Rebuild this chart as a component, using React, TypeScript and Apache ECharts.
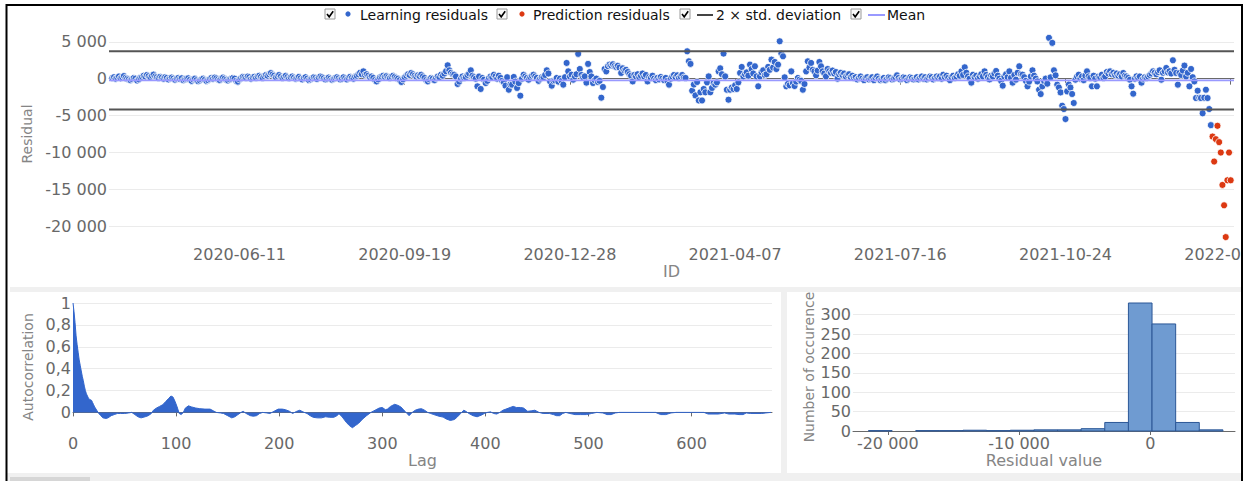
import React, { useEffect, useRef } from 'react';
import * as echarts from 'echarts';

// ---------- data ----------
const START_DATE = '2020-03-26'; // first learning residual (daily data)
const X_RANGE = ['2020-03-24', '2022-02-03'];
const X_TICK_DATES = ['2020-06-11', '2020-09-19', '2020-12-28', '2021-04-07', '2021-07-16', '2021-10-24', '2022-02-01'];
const Y_RANGE = [-22000, 7000];
const Y_TICKS = [5000, 0, -5000, -10000, -15000, -20000];

const LEARNING_RESIDUALS = [
  100, 200, 0, 150, 300, 50, 200, 350, 100, 0,
  -100, -200, -50, 100, 0, -250, -100, 150, 250, 400,
  300, 500, 350, 200, 400, 550, 300, 200, 100, 250,
  150, 0, 200, 100, -100, 50, 150, 0, -150, 0,
  100, -50, 50, -200, -100, 0, 50, -150, -300, -100,
  0, -200, -350, -250, -100, 0, -150, -300, -200, -50,
  100, 0, 150, 50, -100, -200, 0, 150, 0, -150,
  -250, -100, 0, 100, 0, -300, -400, -100, 100, 250,
  200, 100, 300, 200, 0, 150, 250, 100, 300, 400,
  250, 100, 350, 500, 400, 600, 750, 550, 400, 200,
  350, 500, 300, 100, 250, 400, 200, 50, 200, 300,
  150, 0, 100, 250, 50, -100, 100, 200, 0, -200,
  -100, 50, 200, 100, -50, 150, 300, 200, 50, -100,
  0, 150, 0, -150, -50, 100, 200, 50, -100, 0,
  200, 50, -100, 100, 250, 100, 0, 300, 400, 600,
  800, 600, 990, 500, 600, 400, 200, 300, 100, -200,
  -370, -100, 200, 300, 400, 250, 350, 200, 100, 300,
  400, 250, 100, 0, -200, -450, -100, 200, 400, 600,
  500, 770, 600, 400, 300, 450, 350, 540, 300, 100,
  -200, -370, -100, 100, 0, -200, 100, 300, 200, 540,
  400, 700, 1000, 1810, 1130, 800, 600, 540, 300, -720,
  -400, 0, 300, 100, 200, 500, 700, 1130, 400, 200,
  0, -1040, 300, -1400, 100, -140, -600, -300, 100, 300,
  200, 540, 300, 0, 400, 100, -300, -500, -950, 200,
  -1500, -800, -815, 230, -400, -1260, -600, -2310, 0, 540,
  300, 100, -140, 200, 400, 540, 300, 100, -300, 0,
  200, 180, 500, 1130, 700, -400, -950, -300, -230, 100,
  -400, 0, -300, -815, 200, 2130, 990, 300, 540, -140,
  300, 600, 3360, 1310, 500, 200, 310, -540, 2000, 900,
  300, -590, -200, 0, -450, -300, -2580, -1130, 1310, 990,
  1700, 1900, 1800, 1950, 1700, 1600, 1750, 1500, 770, 1400,
  1130, 1200, 900, 600, 400, -370, 500, 300, 600, 200,
  400, 700, 300, 500, -370, 200, 100, 400, 0, -200,
  100, -100, 230, 0, -200, 100, -300, -815, 0, 300,
  500, 200, 450, 100, 300, 500, 150, 100, 3710, 2350,
  2000, -1630, -800, -2270, -450, -2950, -1850, -2950, -1400, -1850,
  -500, 310, -1850, -1260, -600, -815, -500, 990, 1400, 600,
  3400, 310, -1500, -2850, -1500, -1200, -1400, -900, -1400, -500,
  770, 1590, 310, 600, 850, 400, 1900, 1310, 700, 1680,
  310, -1040, 310, 850, 1130, 500, 600, 1590, 1200, 2580,
  1500, 2260, 1300, 1900, 5070, 3400, 3030, 180, -1040, -700,
  -900, 990, -600, -1000, -400, 100, -140, -300, -1500, -720,
  990, 2350, 1500, 2130, 1200, 990, 450, 1100, 2260, 1680,
  990, 700, 310, 1310, 1000, 800, 1100, 700, 900, 0,
  600, 800, 500, 700, 300, 500, 600, 200, 400, 100,
  200, -100, 100, 300, 0, -200, 100, 200, -100, 0,
  200, -200, 100, 300, 0, -200, -100, 100, -200, 0,
  200, 100, -100, 0, 200, 450, 100, -100, 0, 200,
  100, -200, 0, 200, 100, -100, 0, 200, -100, 100,
  300, 0, 200, -100, 100, 300, 200, -100, 100, 300,
  100, 300, 0, 540, 200, 400, 100, -200, 200, 400,
  100, 300, 600, 400, 990, 500, 1540, 800, 300, 0,
  -540, 540, 200, 400, 0, 300, 600, 300, 990, 500,
  200, -100, 400, 300, 700, 1040, 400, 0, -300, -950,
  300, 600, 200, 990, 100, -540, 500, -140, 800, 1680,
  600, 540, 200, -300, -1040, -400, 300, 1130, 400, 0,
  -370, -1500, -2090, -1040, -300, 0, -680, 5530, 180, 4850,
  1130, 450, -815, -1200, -1860, -3670, -4120, -5480, -1720, -800,
  -1200, -2080, -3300, -140, 300, 540, 0, 300, -200, 400,
  990, 300, 100, -1040, 400, 0, -1040, 300, 200, 540,
  100, 300, 900, 700, 990, 600, 800, 500, 700, 400,
  600, 300, 770, 400, 300, 100, -140, -1040, -2040, 0,
  310, 100, 300, -540, 0, 200, 100, 300, 500, 700,
  990, 800, 600, 900, 1130, -140, 800, 1000, 1450, 850,
  1000, 700, 2490, 1200, 770, -815, 770, 500, 1100, 1770,
  310, 800, -1040, 1310, 200, -370, -2630, -1630, -2580, -2630,
  -4700, -2580, -1500, -2630, -4120, -6300,
];

const PREDICTION_RESIDUALS = [-7840, -11230, -8200, -6390, -8600, -10010, -14400, -17160, -21470, -13770, -10010, -13770];

const MEAN = -230;
const STD_UPPER = 3710;
const STD_LOWER = -4170;

const ACF_LAG = [
  0, 1, 2, 3, 4, 5, 6, 7, 8, 9, 10, 11, 12, 13, 14, 15, 16, 17, 18, 19, 20, 21, 23, 25, 27, 29, 32, 34, 37, 40,
  43, 46, 50, 54, 57, 60, 63, 66, 70, 73, 76, 78, 81, 84, 87, 90, 93, 95, 97, 99, 101, 103, 105, 107, 109, 112,
  115, 119, 123, 128, 133, 136, 139, 143, 146, 150, 154, 157, 160, 163, 165, 168, 172, 175, 178, 181, 184, 188,
  191, 195, 199, 203, 206, 210, 213, 217, 220, 223, 227, 230, 233, 237, 241, 245, 249, 253, 256, 258, 261, 265,
  268, 271, 274, 277, 281, 285, 289, 293, 297, 300, 303, 305, 308, 312, 315, 318, 320, 322, 324, 326, 329, 332,
  335, 338, 341, 344, 347, 350, 355, 359, 362, 366, 370, 373, 376, 379, 381, 384, 388, 392, 396, 399, 402, 405,
  408, 411, 414, 417, 420, 424, 427, 430, 434, 437, 441, 445, 448, 452, 456, 462, 466, 469, 472, 475, 478, 482,
  487, 492, 498, 503, 508, 514, 518, 522, 526, 530, 543, 553, 565, 570, 575, 580, 585, 601, 612, 616, 626, 632,
  636, 642, 646, 650, 653, 657, 668, 672, 677,
];
const ACF_VALUE = [
  1.0, 0.92, 0.82, 0.7, 0.62, 0.55, 0.48, 0.43, 0.38, 0.33, 0.29, 0.24, 0.2, 0.17, 0.15, 0.13, 0.12, 0.115, 0.11, 0.09, 0.07, 0.05, 0.02, -0.01, -0.03, -0.05, -0.055, -0.05, -0.03, -0.02,
  -0.01, -0.01, -0.01, -0.005, 0.0, -0.02, -0.04, -0.05, -0.04, -0.03, -0.01, 0.02, 0.04, 0.055, 0.07, 0.1, 0.13, 0.15, 0.14, 0.1, 0.05, -0.01, -0.02, 0.0, 0.04, 0.06,
  0.05, 0.04, 0.034, 0.03, 0.03, 0.015, 0.0, -0.005, -0.01, -0.03, -0.05, -0.04, -0.02, 0.0, 0.01, -0.01, -0.03, -0.035, -0.03, -0.01, 0.0, -0.005,
  -0.01, 0.01, 0.03, 0.03, 0.025, 0.01, -0.01, 0.01, 0.02, 0.005, -0.01, -0.03, -0.045, -0.05, -0.05, -0.04, -0.045, -0.045, -0.03, -0.012, -0.04, -0.09,
  -0.12, -0.14, -0.12, -0.1, -0.06, -0.028, 0.0, 0.02, 0.04, 0.045, 0.025, 0.03, 0.055, 0.074, 0.065, 0.05, 0.03, 0.01, -0.01, -0.03, 0.0, 0.02,
  0.03, 0.034, 0.02, 0.0, -0.01, -0.02, -0.035, -0.043, -0.06, -0.074, -0.065, -0.04, -0.01, 0.02, 0.01, -0.01, -0.03, -0.04, -0.025, -0.01, 0.0, 0.005,
  -0.01, -0.015, 0.0, 0.02, 0.03, 0.045, 0.055, 0.045, 0.045, 0.04, 0.01, 0.015, 0.02, 0.0, -0.01, -0.01, -0.02, -0.03, -0.03, -0.01, 0.0, -0.01,
  -0.02, -0.02, -0.02, -0.01, 0.0, -0.005, -0.02, -0.02, -0.005, 0.0, 0.0, 0.0, 0.0, -0.02, -0.02, -0.005, 0.0, 0.0, 0.0, -0.015, -0.015, -0.005,
  -0.015, -0.015, -0.02, -0.02, -0.005, -0.01, -0.01, -0.005, 0.0,
];
const ACF_X_RANGE = [0, 678];
const ACF_X_TICKS = [0, 100, 200, 300, 400, 500, 600];
const ACF_Y_RANGE = [-0.17, 1];
const ACF_Y_TICKS = [0, 0.2, 0.4, 0.6, 0.8, 1];

const HIST_START = -21470;
const HIST_BIN = 1800;
const HIST_COUNTS = [1, 0, 1, 1, 2, 1, 2, 3, 3, 6, 22, 330, 276, 22, 3];
const HIST_X_RANGE = [-22650, 6450];
const HIST_X_TICKS = [-20000, -10000, 0];
const HIST_Y_RANGE = [0, 330];
const HIST_Y_TICKS = [0, 50, 100, 150, 200, 250, 300];

const LEGEND_ITEMS = ['Learning residuals', 'Prediction residuals', '2 × std. deviation', 'Mean'];

// ---------- helpers ----------
const DAY = 86400000;
const toMs = (d: string) => Date.parse(d + 'T00:00:00Z');
const fmtDate = (v: number) => new Date(v).toISOString().slice(0, 10);
const fmtThousands = (v: number) => {
  const s = Math.round(Math.abs(v)).toString().replace(/\B(?=(\d{3})+(?!\d))/g, ' ');
  return (v < 0 ? '-' : '') + s;
};
const fmtComma = (v: number) => String(Math.round(v * 100) / 100).replace('.', ',');

const FONT = 'DejaVu Sans';
const TICK_COLOR = '#686868';
const NAME_COLOR = '#858585';
const GRID_COLOR = '#ebebeb';
const AXIS_COLOR = '#6a6a6a';

function checkbox(x: number, y: number) {
  return [
    { type: 'rect', shape: { x, y, width: 10, height: 10 }, style: { fill: '#fafafa', stroke: '#9a9a9a', lineWidth: 1 }, z: 50 },
    { type: 'polyline', shape: { points: [[x + 2, y + 5], [x + 4.2, y + 7.8], [x + 8.2, y + 2.2]] }, style: { stroke: '#000', lineWidth: 1.6, fill: null }, z: 51 },
  ];
}

export default function App() {
  const ref = useRef<HTMLDivElement>(null);

  useEffect(() => {
    if (!ref.current) return;
    const chart = echarts.init(ref.current, undefined, { renderer: 'svg' });

    const startMs = toMs(START_DATE);
    const xMin = toMs(X_RANGE[0]);
    const xMax = toMs(X_RANGE[1]);
    const xTicks = X_TICK_DATES.map(toMs);
    const learningData = LEARNING_RESIDUALS.map((v, i) => [startMs + i * DAY, v]);
    const predictionData = PREDICTION_RESIDUALS.map((v, j) => [startMs + (LEARNING_RESIDUALS.length + j) * DAY, v]);
    const acfData = ACF_LAG.map((l, i) => [l, ACF_VALUE[i]]);
    const histData = HIST_COUNTS.map((c, k) => [HIST_START + k * HIST_BIN, HIST_START + (k + 1) * HIST_BIN, c]).filter((d) => d[2] > 0);

    const tickLabel = (custom: number[], formatter: any, margin: number) => ({
      customValues: custom, formatter, fontSize: 16, fontFamily: FONT, color: TICK_COLOR, margin,
    });

    const legendY = 9;
    const legendGraphics: any[] = [
      ...checkbox(325, legendY),
      { type: 'circle', shape: { cx: 348, cy: 14, r: 2.6 }, style: { fill: '#3366cc' }, z: 50 },
      { type: 'text', style: { text: LEGEND_ITEMS[0], x: 360, y: 15, fill: '#111', fontSize: 14, fontFamily: FONT, verticalAlign: 'middle' }, z: 50 },
      ...checkbox(497, legendY),
      { type: 'circle', shape: { cx: 522, cy: 14, r: 2.6 }, style: { fill: '#dc3912' }, z: 50 },
      { type: 'text', style: { text: LEGEND_ITEMS[1], x: 533, y: 15, fill: '#111', fontSize: 14, fontFamily: FONT, verticalAlign: 'middle' }, z: 50 },
      ...checkbox(680, legendY),
      { type: 'line', shape: { x1: 697, y1: 15, x2: 713, y2: 15 }, style: { stroke: '#444', lineWidth: 2 }, z: 50 },
      { type: 'text', style: { text: LEGEND_ITEMS[2], x: 716, y: 15, fill: '#111', fontSize: 14, fontFamily: FONT, verticalAlign: 'middle' }, z: 50 },
      ...checkbox(851, legendY),
      { type: 'line', shape: { x1: 868, y1: 15, x2: 885, y2: 15 }, style: { stroke: '#9999ff', lineWidth: 2 }, z: 50 },
      { type: 'text', style: { text: LEGEND_ITEMS[3], x: 887, y: 15, fill: '#111', fontSize: 14, fontFamily: FONT, verticalAlign: 'middle' }, z: 50 },
    ];

    const option: any = {
      animation: false,
      backgroundColor: '#fff',
      textStyle: { fontFamily: FONT },
      grid: [
        { left: 109, top: 27, width: 1125, height: 214, containLabel: false, outerBoundsMode: 'none' },
        { left: 73, top: 303, width: 699, height: 128, containLabel: false, outerBoundsMode: 'none' },
        { left: 853, top: 303, width: 382, height: 128, containLabel: false, outerBoundsMode: 'none' },
      ],
      xAxis: [
        {
          type: 'value', gridIndex: 0, min: xMin, max: xMax,
          axisLine: { show: true, lineStyle: { color: AXIS_COLOR, width: 1 } },
          axisTick: { show: true, length: 6, customValues: xTicks, lineStyle: { color: AXIS_COLOR } },
          axisLabel: tickLabel(xTicks, fmtDate, 5),
          splitLine: { show: false },
          name: 'ID', nameLocation: 'middle', nameGap: 22,
          nameTextStyle: { fontSize: 16, fontFamily: FONT, color: NAME_COLOR },
        },
        {
          type: 'value', gridIndex: 1, min: ACF_X_RANGE[0], max: ACF_X_RANGE[1],
          axisLine: { show: true, lineStyle: { color: AXIS_COLOR, width: 1 } },
          axisTick: { show: true, length: 4, customValues: ACF_X_TICKS, lineStyle: { color: AXIS_COLOR } },
          axisLabel: tickLabel(ACF_X_TICKS, (v: number) => String(v), 4),
          splitLine: { show: false },
          name: 'Lag', nameLocation: 'middle', nameGap: 21,
          nameTextStyle: { fontSize: 16, fontFamily: FONT, color: NAME_COLOR },
        },
        {
          type: 'value', gridIndex: 2, min: HIST_X_RANGE[0], max: HIST_X_RANGE[1],
          axisLine: { show: true, lineStyle: { color: AXIS_COLOR, width: 1 } },
          axisTick: { show: true, length: 4, customValues: HIST_X_TICKS, lineStyle: { color: AXIS_COLOR } },
          axisLabel: tickLabel(HIST_X_TICKS, fmtThousands, 4),
          splitLine: { show: false },
          name: 'Residual value', nameLocation: 'middle', nameGap: 21,
          nameTextStyle: { fontSize: 16, fontFamily: FONT, color: NAME_COLOR },
        },
      ],
      yAxis: [
        {
          type: 'value', gridIndex: 0, min: Y_RANGE[0], max: Y_RANGE[1],
          axisLine: { show: false },
          axisTick: { show: false, customValues: Y_TICKS },
          axisLabel: tickLabel(Y_TICKS, fmtThousands, 2),
          splitLine: { show: true, lineStyle: { color: GRID_COLOR, width: 1 } },
          name: 'Residual', nameLocation: 'middle', nameGap: 72,
          nameTextStyle: { fontSize: 14, fontFamily: FONT, color: NAME_COLOR },
        },
        {
          type: 'value', gridIndex: 1, min: ACF_Y_RANGE[0], max: ACF_Y_RANGE[1],
          axisLine: { show: false },
          axisTick: { show: false, customValues: ACF_Y_TICKS },
          axisLabel: tickLabel(ACF_Y_TICKS, fmtComma, 2),
          splitLine: { show: true, lineStyle: { color: GRID_COLOR, width: 1 } },
          name: 'Autocorrelation', nameLocation: 'middle', nameGap: 36,
          nameTextStyle: { fontSize: 14, fontFamily: FONT, color: NAME_COLOR },
        },
        {
          type: 'value', gridIndex: 2, min: HIST_Y_RANGE[0], max: HIST_Y_RANGE[1],
          axisLine: { show: false },
          axisTick: { show: false, customValues: HIST_Y_TICKS },
          axisLabel: tickLabel(HIST_Y_TICKS, (v: number) => String(v), 2),
          splitLine: { show: true, lineStyle: { color: GRID_COLOR, width: 1 } },
          name: 'Number of occurence', nameLocation: 'middle', nameGap: 37,
          nameTextStyle: { fontSize: 14, fontFamily: FONT, color: NAME_COLOR },
        },
      ],
      series: [
        {
          name: LEGEND_ITEMS[0], type: 'scatter', xAxisIndex: 0, yAxisIndex: 0,
          data: learningData, symbolSize: 7,
          itemStyle: { color: '#3366cc', borderColor: '#fff', borderWidth: 0.8, opacity: 1 },
        },
        {
          name: LEGEND_ITEMS[1], type: 'scatter', xAxisIndex: 0, yAxisIndex: 0,
          data: predictionData, symbolSize: 7,
          itemStyle: { color: '#dc3912', borderColor: '#fff', borderWidth: 0.8, opacity: 1 },
        },
        {
          name: LEGEND_ITEMS[2], type: 'line', xAxisIndex: 0, yAxisIndex: 0,
          data: [[xMin, STD_UPPER], [xMax, STD_UPPER]], symbol: 'none',
          lineStyle: { color: '#555', width: 2 },
        },
        {
          name: LEGEND_ITEMS[2] + ' ', type: 'line', xAxisIndex: 0, yAxisIndex: 0,
          data: [[xMin, STD_LOWER], [xMax, STD_LOWER]], symbol: 'none',
          lineStyle: { color: '#555', width: 2 },
        },
        {
          name: LEGEND_ITEMS[3], type: 'line', xAxisIndex: 0, yAxisIndex: 0,
          data: [[xMin, MEAN], [xMax, MEAN]], symbol: 'none',
          lineStyle: { color: '#9999ff', width: 1.6 },
        },
        {
          name: 'Autocorrelation', type: 'line', xAxisIndex: 1, yAxisIndex: 1,
          data: acfData, symbol: 'none', showSymbol: false,
          lineStyle: { color: '#3366cc', width: 1 },
          areaStyle: { color: '#3366cc', opacity: 1 },
        },
        {
          name: 'Histogram', type: 'custom', xAxisIndex: 2, yAxisIndex: 2,
          coordinateSystem: 'cartesian2d',
          encode: { x: [0, 1], y: 2 },
          data: histData,
          renderItem: (params: any, api: any) => {
            const p0 = api.coord([api.value(0), api.value(2)]);
            const p1 = api.coord([api.value(1), 0]);
            return {
              type: 'rect',
              shape: { x: p0[0], y: p0[1], width: p1[0] - p0[0], height: p1[1] - p0[1] },
              style: { fill: '#6f9bd1', stroke: '#2b5797', lineWidth: 1 },
            };
          },
        },
      ],
      graphic: [
        { type: 'rect', shape: { x: 10, y: 287, width: 1231, height: 5 }, style: { fill: '#f0f0f0' }, z: 40 },
        { type: 'rect', shape: { x: 781, y: 292, width: 6, height: 181 }, style: { fill: '#f0f0f0' }, z: 40 },
        { type: 'rect', shape: { x: 7, y: 473, width: 1234, height: 8 }, style: { fill: '#f0f0f0' }, z: 40 },
        { type: 'rect', shape: { x: 10, y: 477, width: 80, height: 4 }, style: { fill: '#d6d6d6' }, z: 41 },
        { type: 'rect', shape: { x: 1243, y: 0, width: 2, height: 481 }, style: { fill: '#fff' }, z: 99 },
        { type: 'polyline', shape: { points: [[6.5, 481], [6.5, 5], [1242, 5], [1242, 481]] }, style: { stroke: '#000', lineWidth: 2, fill: null }, z: 100 },
        ...legendGraphics,
      ],
    };

    chart.setOption(option);
    return () => chart.dispose();
  }, []);

  return <div ref={ref} style={{ position: 'fixed', left: 0, top: 0, width: 1245, height: 481 }} />;
}
